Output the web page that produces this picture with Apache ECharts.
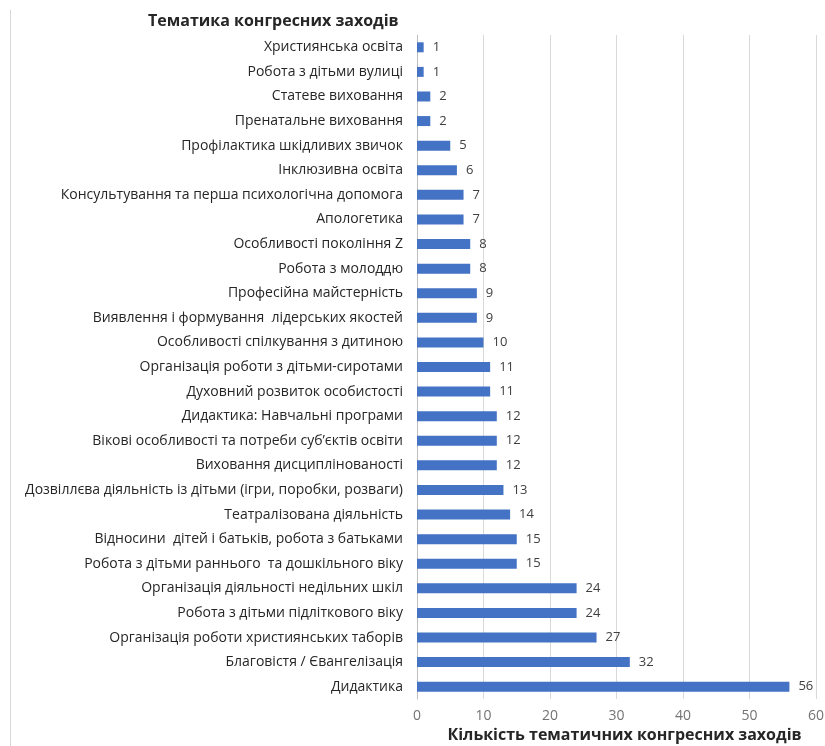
<!DOCTYPE html>
<html>
<head>
<meta charset="utf-8">
<script src="https://cdn.jsdelivr.net/npm/echarts@6/dist/echarts.min.js"></script>
<style>html,body{margin:0;padding:0;background:#fff;}#c{width:825px;height:746px;}</style>
</head>
<body>
<div id="c"></div>
<script>
const categories = [
  "Християнська освіта",
  "Робота з дітьми вулиці",
  "Статеве виховання",
  "Пренатальне виховання",
  "Профілактика шкідливих звичок",
  "Інклюзивна освіта",
  "Консультування та перша психологічна допомога",
  "Апологетика",
  "Особливості покоління Z",
  "Робота з молоддю",
  "Професійна майстерність",
  "Виявлення і формування  лідерських якостей",
  "Особливості спілкування з дитиною",
  "Організація роботи з дітьми-сиротами",
  "Духовний розвиток особистості",
  "Дидактика: Навчальні програми",
  "Вікові особливості та потреби суб’єктів освіти",
  "Виховання дисциплінованості",
  "Дозвіллєва діяльність із дітьми (ігри, поробки, розваги)",
  "Театралізована діяльність",
  "Відносини  дітей і батьків, робота з батьками",
  "Робота з дітьми раннього  та дошкільного віку",
  "Організація діяльності недільних шкіл",
  "Робота з дітьми підліткового віку",
  "Організація роботи християнських таборів",
  "Благовістя / Євангелізація",
  "Дидактика"
];
const values = [1,1,2,2,5,6,7,7,8,8,9,9,10,11,11,12,12,12,13,14,15,15,24,24,27,32,56];
const xTicks = [0,10,20,30,40,50,60];
const chartTitle = "Тематика конгресних заходів";
const xAxisName = "Кількість тематичних конгресних заходів";

const font = "'Open Sans', 'Noto Sans', sans-serif";
const chart = echarts.init(document.getElementById('c'));
chart.setOption({
  backgroundColor: '#fff',
  animation: false,
  title: {
    text: chartTitle, left: 143, top: 8,
    textStyle: {fontFamily: font, fontSize: 16, fontWeight: 'bold', color: '#262626'}
  },
  graphic: [{type: 'line', shape: {x1: 10.5, y1: 10, x2: 10.5, y2: 746}, style: {stroke: '#d9d9d9', lineWidth: 1}}],
  grid: {left: 417, right: 9, top: 35, bottom: 47, containLabel: false, outerBoundsMode: 'none'},
  xAxis: {
    type: 'value', min: xTicks[0], max: xTicks[xTicks.length-1], interval: 10,
    name: xAxisName, nameLocation: 'middle', nameGap: 26,
    nameTextStyle: {fontFamily: font, fontSize: 16, fontWeight: 'bold', color: '#262626', padding: [0,0,0,16]},
    axisLine: {show: false}, axisTick: {show: false},
    axisLabel: {fontFamily: font, fontSize: 14, color: '#737373', margin: 10},
    splitLine: {lineStyle: {color: '#d9d9d9', width: 1}}
  },
  yAxis: {
    type: 'category', data: categories, inverse: true,
    axisLine: {lineStyle: {color: '#bfbfbf'}}, axisTick: {show: false},
    axisLabel: {fontFamily: font, fontSize: 14, color: '#262626', margin: 14, interval: 0}
  },
  series: [{
    type: 'bar', data: values, barWidth: 10,
    itemStyle: {color: '#4472C4'},
    label: {show: true, position: 'right', distance: 9, fontFamily: font, fontSize: 13, color: '#404040'}
  }]
});
</script>
</body>
</html>
